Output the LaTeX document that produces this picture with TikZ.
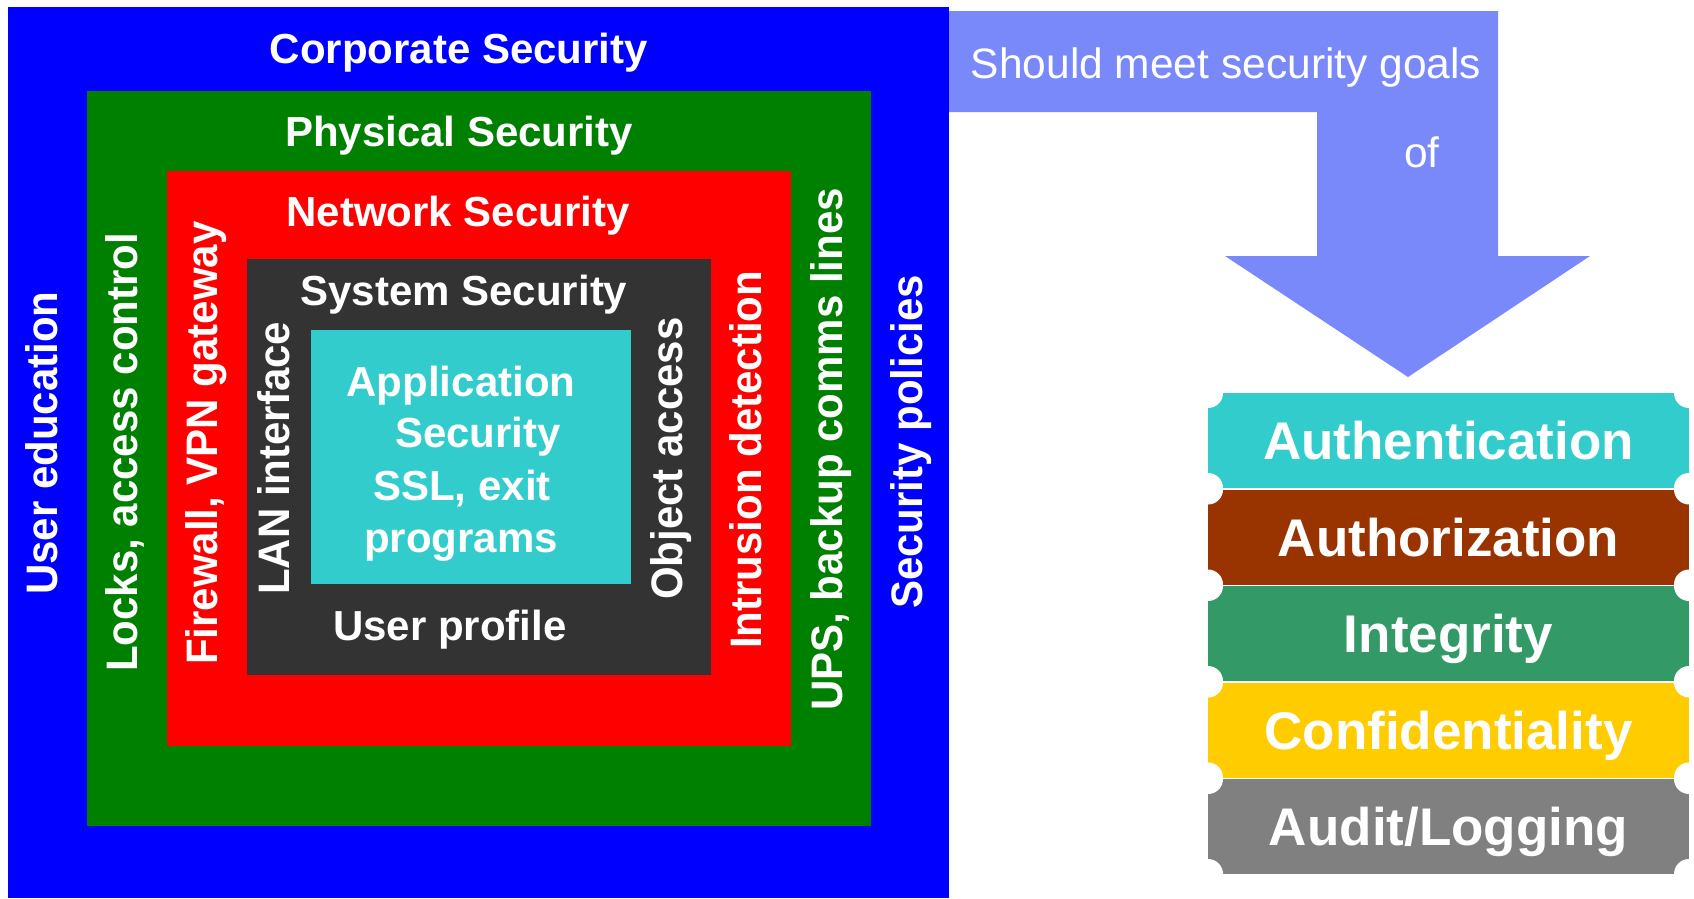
\documentclass[tikz,border=0pt]{standalone}
\usepackage{fontspec}
\usepackage{graphicx}
\setmainfont{Liberation Sans}

\definecolor{corpblue}{HTML}{0000FF}
\definecolor{physgreen}{HTML}{008000}
\definecolor{netred}{HTML}{FF0000}
\definecolor{sysdark}{HTML}{333333}
\definecolor{appcyan}{HTML}{33CCCC}
\definecolor{arrowblue}{HTML}{7A89FA}
\definecolor{authbrown}{HTML}{993300}
\definecolor{integgreen}{HTML}{339966}
\definecolor{confgold}{HTML}{FFCC00}
\definecolor{auditgrey}{HTML}{808080}

% slightly taller glyphs for the upright side labels
\newcommand{\tallside}[1]{\scalebox{1}[1.05]{#1}}

\begin{document}
\begin{tikzpicture}[x=1pt,y=-1pt,
  title/.style={text=white, font=\fontsize{42}{50}\selectfont\bfseries, inner sep=0pt, anchor=base},
  side/.style={text=white, font=\fontsize{42}{50}\selectfont\bfseries, inner sep=0pt, rotate=90, anchor=base west},
  plain/.style={text=white, font=\fontsize{42.5}{50}\selectfont, inner sep=0pt, anchor=base},
  goal/.style={text=white, font=\fontsize{53}{60}\selectfont\bfseries, inner sep=0pt, anchor=base},
]
\useasboundingbox (0,0) rectangle (1694,898);

% bent arrow pointing down to the goals
\fill[arrowblue] (947,11) -- (1498,11) -- (1498,256) -- (1590,256) -- (1408,377)
  -- (1225,256) -- (1317,256) -- (1317,112) -- (947,112) -- cycle;
\node[plain] (should) at (1226,78) {Should meet security goals};
\node[plain] (of) at (1422,167) {of};

% nested security layers
\fill[corpblue]  (8,7)     rectangle (949,898);
\fill[physgreen] (87,91)   rectangle (871,826);
\fill[netred]    (167,171) rectangle (791,746);
\fill[sysdark]   (247,259) rectangle (711,675);
\fill[appcyan]   (311,330) rectangle (631,584);

% layer titles
\node[title] (corp) at (459,63)  {Corporate Security};
\node[title] (phys) at (459,146) {Physical Security};
\node[title] (net)  at (458,226) {Network Security};
\node[title] (sys)  at (464,305) {System Security};
\node[title] (app1) at (461,396) {Application};
\node[title] (app2) at (478,447) {Security};
\node[title] (app3) at (462,500) {SSL, exit};
\node[title] (app4) at (461,552) {programs};
\node[title] (uprof) at (450,640) {User profile};

% side labels, reading upwards
\node[side] (useredu)  at (57,595)  {\tallside{User education}};
\node[side] (locks)    at (137,672) {\tallside{Locks, access control}};
\node[side] (firewall) at (217,665) {\tallside{Firewall, VPN gateway}};
\node[side] (lan)      at (289,595) {\tallside{LAN interface}};
\node[side] (objacc)   at (682,600) {\tallside{Object access}};
\node[side] (intrus)   at (761,649) {\tallside{Intrusion detection}};
\node[side] (ups)      at (842,711) {\tallside{UPS, backup comms lines}};
\node[side] (policies) at (922,609) {\tallside{Security policies}};

% goal tickets with notched corners
\foreach \t/\txt/\col [count=\i] in {
    393/Authentication/appcyan,
    489.5/Authorization/authbrown,
    586/Integrity/integgreen,
    682.5/Confidentiality/confgold,
    779/Audit\slash Logging/auditgrey} {
  \fill[\col] (1208,\t) rectangle (1689,\t+95);
  \fill[white] (1208,\t) circle[radius=15pt] (1689,\t) circle[radius=15pt]
               (1208,\t+95) circle[radius=15pt] (1689,\t+95) circle[radius=15pt];
  \node[goal] (goal\i) at (1448.5,\t+66.5) {\txt};
}
\end{tikzpicture}
\end{document}
